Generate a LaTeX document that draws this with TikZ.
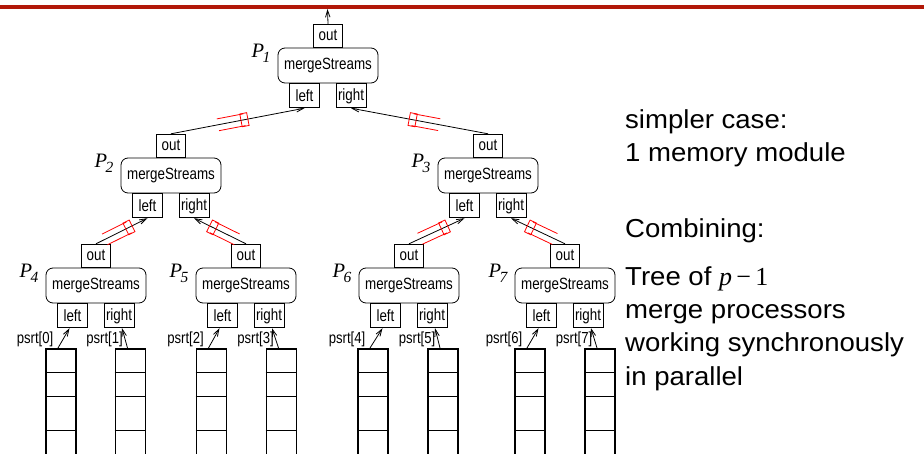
\documentclass[tikz,border=0pt]{standalone}
\usepackage{fontspec}
\setmainfont{Liberation Sans}
\newfontfamily\condf[FakeStretch=0.82]{Liberation Sans}
\newfontfamily\widef[FakeStretch=1.06]{Liberation Sans}
\newfontfamily\timesf{Liberation Serif}
\usetikzlibrary{arrows.meta,calc}
\definecolor{topred}{RGB}{178,24,8}
\tikzset{
  msbox/.style={draw, rounded corners=7pt, minimum width=100pt, minimum height=35pt,
    inner sep=0pt, line width=0.8pt, font=\condf\fontsize{16.3}{16.3}\selectfont},
  portbox/.style={draw, minimum width=30pt, minimum height=24pt, inner sep=0pt,
    line width=0.8pt, font=\condf\fontsize{16.3}{16.3}\selectfont},
  outbox/.style={portbox, minimum width=29pt, minimum height=23pt},
  plabel/.style={font=\timesf\itshape\fontsize{20.5}{20.5}\selectfont, inner sep=0pt, anchor=base east},
  conn/.style={line width=0.8pt, -{Straight Barb[length=7pt,width=4.5pt]}},
  chan/.pic={
    \draw[red, line width=0.8pt] (-3.5,-6.5) rectangle (3.5,6.5);
    \draw[red, line width=0.8pt] (-27,-6) -- (0,-6) (-27,6) -- (0,6);
  },
  arrbox/.style={draw, line width=1.6pt, minimum width=30pt, minimum height=130pt,
    anchor=north, inner sep=0pt},
  cellline/.style={line width=0.8pt},
  psrtlab/.style={font=\condf\fontsize{16}{16}\selectfont, anchor=base east, inner sep=0pt},
  side/.style={font=\widef\fontsize{26}{26}\selectfont, anchor=base west, inner sep=0pt},
}
\newcommand\mkproc[4]{%
  \node[msbox] (#1) at (#2,#3+17.5) {mergeStreams};
  \node[outbox, anchor=south] (#1-out) at (#1.north) {out};
  \node[portbox, anchor=north] (#1-l) at ($(#1.south)+(-23.5,0)$) {left};
  \node[portbox, anchor=north] (#1-r) at ($(#1.south)+(23,0)$) {right};
  \node[plabel] (#1-lab) at ($(#1.north west)+(-7,10)$)
    {P\kern-1.5pt\raisebox{-5pt}{\fontsize{15.5}{15.5}\selectfont #4}};
}
\newcommand\mkarr[2]{%
  \node[arrbox] (#1) at (#2,348) {};
  \draw[cellline] ($(#1.north west)+(0,24)$) -- ($(#1.north east)+(0,24)$);
  \draw[cellline] ($(#1.north west)+(0,48)$) -- ($(#1.north east)+(0,48)$);
  \draw[cellline] ($(#1.north west)+(0,82)$) -- ($(#1.north east)+(0,82)$);
}
\begin{document}
\begin{tikzpicture}[x=1pt, y=-1pt]
  \clip (0,0) rectangle (924,454);
  \useasboundingbox (0,0) rectangle (924,454);
  % top rule
  \coordinate (tl) at (0,6.8);
  \coordinate (tr) at (924,6.8);
  \draw[topred, line width=4pt] (tl) -- (tr);

  % processors
  \mkproc{P1}{328}{48}{1}
  \mkproc{P2}{171}{158}{2}
  \mkproc{P3}{488}{158}{3}
  \mkproc{P4}{96}{268}{4}
  \mkproc{P5}{246}{268}{5}
  \mkproc{P6}{409}{268}{6}
  \mkproc{P7}{565}{268}{7}

  % output
  \coordinate (topend) at (327.5,9);
  \draw[conn] (P1-out.north) -- (topend);

  % tree connectors
  \draw[conn] (P2-out.north) -- (P1-l.south);
  \draw[conn] (P3-out.north) -- (P1-r.south);
  \draw[conn] (P4-out.north) -- (P2-l.south);
  \draw[conn] (P5-out.north) -- (P2-r.south);
  \draw[conn] (P6-out.north) -- (P3-l.south);
  \draw[conn] (P7-out.north) -- (P3-r.south);

  % channel symbols
  \path (P2-out.north) -- (P1-l.south) pic[pos=0.55, sloped, allow upside down] {chan};
  \path (P3-out.north) -- (P1-r.south) pic[pos=0.55, sloped, allow upside down] {chan};
  \path (P4-out.north) -- (P2-l.south) pic[pos=0.64, sloped, allow upside down] {chan};
  \path (P5-out.north) -- (P2-r.south) pic[pos=0.64, sloped, allow upside down] {chan};
  \path (P6-out.north) -- (P3-l.south) pic[pos=0.64, sloped, allow upside down] {chan};
  \path (P7-out.north) -- (P3-r.south) pic[pos=0.64, sloped, allow upside down] {chan};

  % arrays
  \mkarr{A0}{61}
  \mkarr{A1}{130.5}
  \mkarr{A2}{211.5}
  \mkarr{A3}{281.5}
  \mkarr{A4}{373}
  \mkarr{A5}{443}
  \mkarr{A6}{530}
  \mkarr{A7}{600}

  % input arrows
  \draw[conn] ($(A0.north)+(-3,0)$) -- ($(P4-l.south)+(-3,0)$);
  \draw[conn] ($(A1.north)+(-3,0)$) -- ($(P4-r.south)+(3,0)$);
  \draw[conn] ($(A2.north)+(-3,0)$) -- ($(P5-l.south)+(-3,0)$);
  \draw[conn] ($(A3.north)+(-3,0)$) -- ($(P5-r.south)+(3,0)$);
  \draw[conn] ($(A4.north)+(-3,0)$) -- ($(P6-l.south)+(-3,0)$);
  \draw[conn] ($(A5.north)+(-3,0)$) -- ($(P6-r.south)+(3,0)$);
  \draw[conn] ($(A6.north)+(-3,0)$) -- ($(P7-l.south)+(-3,0)$);
  \draw[conn] ($(A7.north)+(-3,0)$) -- ($(P7-r.south)+(3,0)$);

  % psrt labels
  \node[psrtlab] (L0) at ($(A0.north)+(-7.5,-4)$) {psrt[0]};
  \node[psrtlab] (L1) at ($(A1.north)+(-7.5,-4)$) {psrt[1]};
  \node[psrtlab] (L2) at ($(A2.north)+(-7.5,-4)$) {psrt[2]};
  \node[psrtlab] (L3) at ($(A3.north)+(-7.5,-4)$) {psrt[3]};
  \node[psrtlab] (L4) at ($(A4.north)+(-7.5,-4)$) {psrt[4]};
  \node[psrtlab] (L5) at ($(A5.north)+(-7.5,-4)$) {psrt[5]};
  \node[psrtlab] (L6) at ($(A6.north)+(-7.5,-4)$) {psrt[6]};
  \node[psrtlab] (L7) at ($(A7.north)+(-7.5,-4)$) {psrt[7]};

  % side text
  \node[side] (s1) at (625,129) {simpler case:};
  \node[side] (s2) at (625,162) {1 memory module};
  \node[side] (s3) at (625,238) {Combining:};
  \node[side] (s4) at (625,286) {Tree of {\timesf\itshape p}\,{\timesf −\,1}};
  \node[side] (s5) at (625,319) {merge processors};
  \node[side] (s6) at (625,352) {working synchronously};
  \node[side] (s7) at (625,385) {in parallel};
\end{tikzpicture}
\end{document}
